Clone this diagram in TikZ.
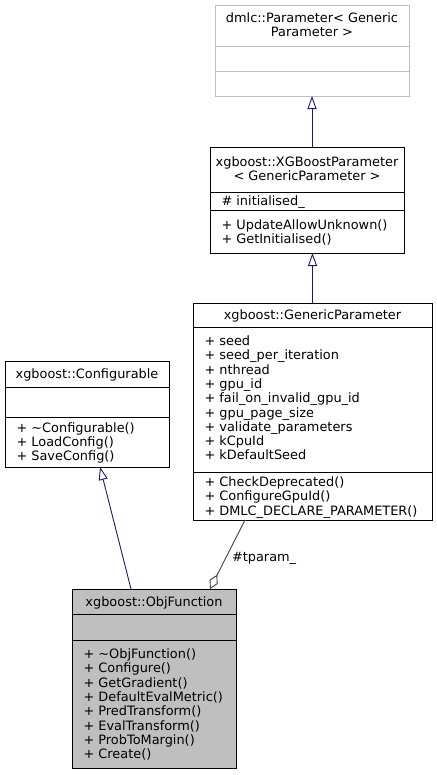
\documentclass[tikz,border=0pt]{standalone}
\usepackage{fontspec}
\setmainfont{DejaVu Sans}
\usetikzlibrary{arrows.meta,calc}
\definecolor{edgeblue}{HTML}{191970}
\definecolor{boxgrey}{HTML}{BFBFBF}
\definecolor{aggrey}{HTML}{404040}
\tikzset{
  umlbox/.style={draw=black, line width=0.9bp, anchor=north west, inner sep=0pt, outer sep=0pt, rectangle},
  divline/.style={draw=black, line width=0.9bp},
  txt/.style={inner sep=0pt, outer sep=0pt, font=\fontsize{12.9bp}{14.3bp}\selectfont},
  inherit/.style={draw=edgeblue, line width=0.9bp, -{Triangle[open, length=13bp, width=9bp, fill=white]}},
  aggr/.style={draw=aggrey, line width=0.9bp, -{Diamond[open, length=16bp, width=9bp, fill=white]}},
}
\newcommand\umlrows[4]{%
  \foreach \t [count=\i] in {#4}
    \node[txt, anchor=base west] (#1\i) at (#2,{#3+(\i-1)*14.3}) {\t};%
}
\begin{document}
\begin{tikzpicture}[x=1bp,y=-1bp]
\useasboundingbox (0,0) rectangle (437,775);

% dmlc::Parameter
\node[umlbox, draw=boxgrey, minimum width=194bp, minimum height=91bp] (dmlc) at (215,5) {};
\draw[divline, draw=boxgrey] (215,46) -- (409,46);
\draw[divline, draw=boxgrey] (215,71) -- (409,71);
\node[txt, anchor=base] (dmlct1) at (312,23) {dmlc::Parameter< Generic};
\node[txt, anchor=base] (dmlct2) at (312,37) {Parameter >};

% XGBoostParameter
\node[umlbox, minimum width=194bp, minimum height=106bp] (xgb) at (210,147) {};
\draw[divline] (210,192) -- (404,192);
\draw[divline] (210,210) -- (404,210);
\node[txt, anchor=base] (xgbt1) at (307,166) {xgboost::XGBoostParameter};
\node[txt, anchor=base] (xgbt2) at (307,180) {< GenericParameter >};
\umlrows{xgba}{221.5}{205}{{\# initialised\_}}
\umlrows{xgbm}{221.5}{229}{{+ UpdateAllowUnknown()},{+ GetInitialised()}}

% GenericParameter
\node[umlbox, minimum width=239bp, minimum height=217bp] (gp) at (193,303) {};
\draw[divline] (193,327) -- (432,327);
\draw[divline] (193,472) -- (432,472);
\node[txt, anchor=base] (gpt) at (312.5,319.5) {xgboost::GenericParameter};
\umlrows{gpa}{204.5}{345.5}{{+ seed},{+ seed\_per\_iteration},{+ nthread},{+ gpu\_id},{+ fail\_on\_invalid\_gpu\_id},{+ gpu\_page\_size},{+ validate\_parameters},{+ kCpuId},{+ kDefaultSeed}}
\umlrows{gpm}{204.5}{486.5}{{+ CheckDeprecated()},{+ ConfigureGpuId()},{+ DMLC\_DECLARE\_PARAMETER()}}

% Configurable
\node[umlbox, minimum width=164bp, minimum height=106bp] (conf) at (5,361) {};
\draw[divline] (5,387) -- (169,387);
\draw[divline] (5,417) -- (169,417);
\node[txt, anchor=base] (conft) at (87,378.5) {xgboost::Configurable};
\umlrows{confm}{16.5}{432}{{+ \textasciitilde Configurable()},{+ LoadConfig()},{+ SaveConfig()}}

% ObjFunction
\node[umlbox, fill=boxgrey, minimum width=164bp, minimum height=179bp] (obj) at (72,589) {};
\draw[divline] (72,614) -- (236,614);
\draw[divline] (72,640) -- (236,640);
\node[txt, anchor=base] (objt) at (154,606) {xgboost::ObjFunction};
\umlrows{objm}{83.5}{658.5}{{+ \textasciitilde ObjFunction()},{+ Configure()},{+ GetGradient()},{+ DefaultEvalMetric()},{+ PredTransform()},{+ EvalTransform()},{+ ProbToMargin()},{+ Create()}}

% connectors
\draw[inherit] (xgb.north -| dmlc.south) -- (dmlc.south);
\draw[inherit] (gp.north) -- (gp.north |- xgb.south);
\draw[inherit] ([xshift=-23bp]obj.north) -- ([xshift=13bp]conf.south);
\draw[aggr] ([xshift=-67.5bp]gp.south) -- ([xshift=56bp]obj.north);
\node[txt, anchor=base west] (lbl) at (232,561) {\#tparam\_};
\end{tikzpicture}
\end{document}
